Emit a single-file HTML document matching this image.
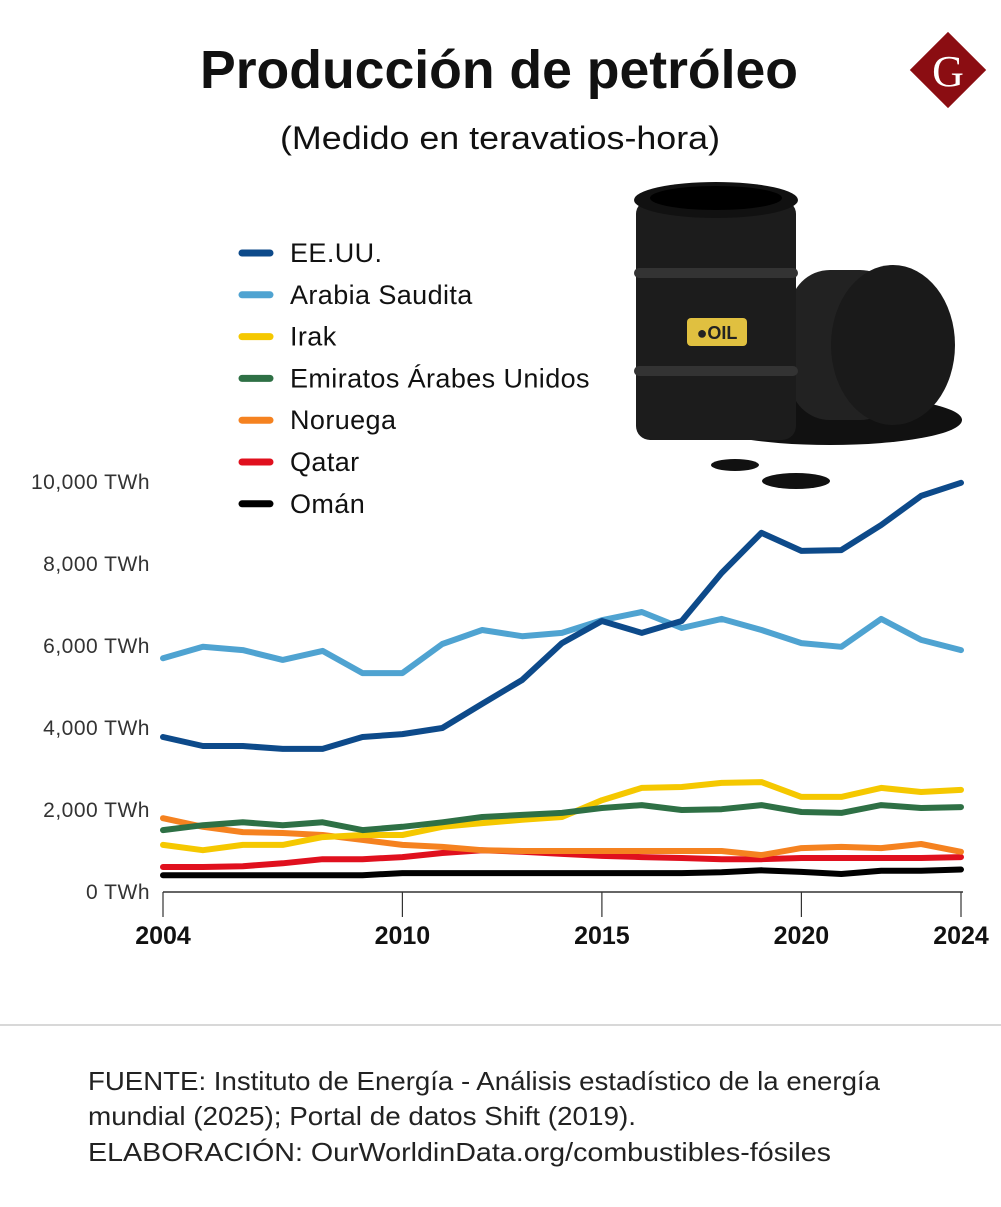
<!DOCTYPE html>
<html><head><meta charset="utf-8">
<style>
body{margin:0;width:1001px;height:1207px;background:#fff;overflow:hidden;font-family:"Liberation Sans",sans-serif;}
svg{display:block}
</style></head><body>
<svg width="1001" height="1207" viewBox="0 0 1001 1207">
<text x="200" y="88" textLength="598" lengthAdjust="spacingAndGlyphs" font-size="54" font-weight="bold" fill="#111">Producción de petróleo</text>
<text x="280" y="149" textLength="440" lengthAdjust="spacingAndGlyphs" font-size="32" fill="#111">(Medido en teravatios-hora)</text>
<g>
<rect x="921" y="43" width="54" height="54" fill="#8b0d12" transform="rotate(45 948 70)"/>
<text x="948" y="86" text-anchor="middle" font-size="44" font-family="Liberation Serif,serif" fill="#fff">G</text>
</g>
<g>
<ellipse cx="830" cy="420" rx="132" ry="25" fill="#111"/>
<ellipse cx="735" cy="465" rx="24" ry="6" fill="#111"/>
<ellipse cx="796" cy="481" rx="34" ry="8" fill="#111"/>
<rect x="790" y="270" width="110" height="150" rx="40" fill="#222"/>
<ellipse cx="893" cy="345" rx="62" ry="80" fill="#1a1a1a"/>
<rect x="636" y="200" width="160" height="240" rx="14" fill="#1c1c1c"/>
<rect x="634" y="268" width="164" height="10" rx="5" fill="#333"/>
<rect x="634" y="366" width="164" height="10" rx="5" fill="#333"/>
<ellipse cx="716" cy="200" rx="82" ry="18" fill="#111"/>
<ellipse cx="716" cy="198" rx="66" ry="12" fill="#000"/>
<rect x="687" y="318" width="60" height="28" rx="4" fill="#e0c040"/>
<text x="717" y="339" text-anchor="middle" font-size="18" font-weight="bold" fill="#222">●OIL</text>
</g>
<g id="legend"></g>
<g id="axes"></g>
<g id="lines"></g>
<line x1="0" y1="1025" x2="1001" y2="1025" stroke="#ccc" stroke-width="1.5"/>
<g font-size="26" fill="#222">
<text x="88" y="1090" textLength="792" lengthAdjust="spacingAndGlyphs">FUENTE: Instituto de Energía - Análisis estadístico de la energía</text>
<text x="88" y="1125" textLength="548" lengthAdjust="spacingAndGlyphs">mundial (2025); Portal de datos Shift (2019).</text>
<text x="88" y="1161" textLength="743" lengthAdjust="spacingAndGlyphs">ELABORACIÓN: OurWorldinData.org/combustibles-fósiles</text>
</g>
</svg>
<script>
const years=[2004,2005,2006,2007,2008,2009,2010,2011,2012,2013,2014,2015,2016,2017,2018,2019,2020,2021,2022,2023,2024];
const usa=[3780,3560,3560,3490,3490,3780,3850,4000,4590,5170,6070,6610,6320,6610,7780,8760,8320,8340,8950,9660,9980];
const saudi=[5700,5980,5900,5660,5880,5340,5340,6050,6390,6240,6320,6630,6830,6440,6660,6390,6070,5980,6660,6150,5900];
const iraq=[1150,1020,1150,1150,1340,1390,1390,1590,1680,1760,1830,2240,2540,2560,2660,2680,2320,2320,2540,2440,2490];
const uae=[1510,1630,1700,1630,1700,1510,1590,1700,1830,1880,1930,2050,2120,2000,2020,2120,1950,1930,2120,2050,2070];
const norway=[1800,1590,1460,1440,1390,1270,1150,1100,1020,1000,1000,1000,1000,1000,1000,900,1070,1100,1070,1170,980];
const qatar=[610,610,630,700,800,800,850,950,1020,980,930,880,850,830,800,800,830,830,830,830,850];
const oman=[410,410,410,410,410,410,460,460,460,460,460,460,460,460,480,530,490,440,520,520,550];
const seriesNames=["EE.UU.","Arabia Saudita","Irak","Emiratos Árabes Unidos","Noruega","Qatar","Omán"];
const seriesColors=["#0d4a8a","#4fa3d1","#f5c800","#2e7045","#f58220","#e0101e","#000000"];
const yTicks=[0,2000,4000,6000,8000,10000];
const yTickLabels=["0 TWh","2,000 TWh","4,000 TWh","6,000 TWh","8,000 TWh","10,000 TWh"];
const xTicks=[2004,2010,2015,2020,2024];
const NS="http://www.w3.org/2000/svg";
const xs=y=>163+(y-2004)*39.9;
const ys=v=>892-v*0.041;
function mk(tag,attrs,parent){const e=document.createElementNS(NS,tag);for(const k in attrs)e.setAttribute(k,attrs[k]);parent.appendChild(e);return e;}
const axes=document.getElementById('axes');
let base=mk('line',{x1:163,y1:892,x2:963,y2:892,stroke:'#333','stroke-width':1.5},axes);


yTicks.forEach((v,i)=>{const t=mk('text',{x:150,y:ys(v)+7,'text-anchor':'end','font-size':21,'letter-spacing':0.5,fill:'#333'},axes);t.textContent=yTickLabels[i];

});
xTicks.forEach(y=>{const l=mk('line',{x1:xs(y),y1:892,x2:xs(y),y2:917,stroke:'#333','stroke-width':1.2},axes);


const t=mk('text',{x:xs(y),y:944,'text-anchor':'middle','font-size':25,'font-weight':'bold',fill:'#111'},axes);t.textContent=y;

});
const data=[usa,saudi,iraq,uae,norway,qatar,oman];
const g=document.getElementById('lines');
const order=[6,5,4,2,3,1,0];
order.forEach(i=>{const d=data[i].map((v,j)=>(j?'L':'M')+xs(years[j]).toFixed(1)+','+ys(v).toFixed(1)).join('');
const p=mk('path',{d:d,fill:'none',stroke:seriesColors[i],'stroke-width':6,'stroke-linejoin':'round','stroke-linecap':'round'},g);

});
const lg=document.getElementById('legend');
seriesNames.forEach((n,i)=>{const y=253+i*41.8;
const l=mk('line',{x1:242,y1:y,x2:270,y2:y,stroke:seriesColors[i],'stroke-width':7,'stroke-linecap':'round'},lg);


const t=mk('text',{x:290,y:y+9,'font-size':27,'letter-spacing':0.4,fill:'#111'},lg);t.textContent=n;

});
</script>
</body></html>
